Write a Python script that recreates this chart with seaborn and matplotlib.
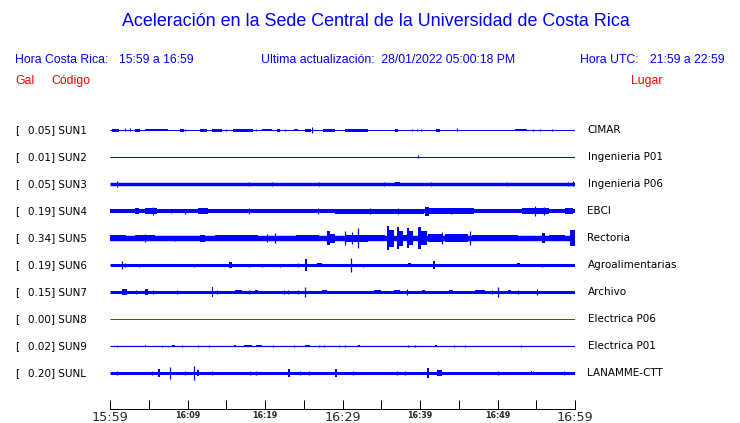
import matplotlib
matplotlib.use("Agg")
import numpy as np
import pandas as pd
import seaborn as sns
import matplotlib.pyplot as plt

#%%                  Data                  ###

codes = ["SUN1", "SUN2", "SUN3", "SUN4", "SUN5", "SUN6", "SUN7", "SUN8", "SUN9", "SUNL"]
gal = [0.05, 0.01, 0.05, 0.19, 0.34, 0.19, 0.15, 0.00, 0.02, 0.20]
places = ["CIMAR", "Ingenieria P01", "Ingenieria P06", "EBCI", "Rectoria",
          "Agroalimentarias", "Archivo", "Electrica P06", "Electrica P01", "LANAMME-CTT"]

# half width of the quiet trace, in pixels
base_half = [0.5, 0.5, 1.7, 2.0, 2.7, 1.5, 1.5, 0.5, 0.6, 1.5]

# bursts: (start min, end min, half amplitude px), minutes after 15:59
bursts_sun1 = [(0.2, 1.1, 1.5), (1.9, 1.9, 1.5), (2.6, 2.6, 1.5), (3.2, 3.9, 1.5), (4.5, 7.5, 1.3),
               (9.0, 9.5, 1.5), (9.7, 9.7, 1.2), (11.6, 12.5, 1.5), (13.1, 14.4, 1.5), (15.0, 15.0, 1.2),
               (15.9, 18.5, 1.5), (18.9, 18.9, 1.3), (19.6, 20.9, 1.3), (21.5, 21.9, 1.5), (22.6, 22.6, 1.0),
               (23.7, 24.2, 1.3), (25.1, 25.9, 1.5), (26.1, 26.1, 2.7), (27.5, 29.0, 1.5), (30.3, 33.3, 1.5),
               (36.8, 37.1, 1.5), (39.0, 39.0, 1.2), (39.6, 39.6, 1.0), (40.1, 40.1, 1.0), (42.1, 42.6, 1.5),
               (44.8, 44.8, 1.5), (52.3, 53.8, 1.2), (54.6, 54.6, 1.2), (55.5, 55.5, 1.0), (57.0, 57.0, 1.2)]
bursts_sun2 = [(39.7, 39.7, 1.5)]
bursts_sun3 = [(0.95, 0.95, 3.0), (17.9, 17.9, 2.2), (20.95, 20.95, 2.0), (27.0, 27.0, 2.0),
               (35.3, 35.3, 2.0), (36.8, 37.4, 2.0), (41.4, 41.4, 2.0), (51.2, 51.2, 2.0),
               (59.1, 59.1, 2.2), (59.8, 59.8, 2.5)]
bursts_sun4 = [(0.0, 1.5, 2.3), (3.2, 3.7, 2.8), (4.5, 6.0, 2.6), (5.6, 5.6, 4.0), (7.9, 7.9, 2.4),
               (9.7, 9.7, 2.5), (11.4, 12.7, 2.8), (13.5, 14.4, 2.4), (15.3, 17.0, 2.3), (17.9, 17.9, 2.6),
               (22.8, 26.9, 2.3), (26.9, 26.9, 3.3), (29.0, 40.5, 2.5), (33.5, 33.5, 3.3), (37.2, 37.2, 3.0),
               (40.6, 41.1, 4.5), (41.1, 41.8, 3.2), (41.8, 47.0, 2.6), (44.0, 44.0, 3.2),
               (47.0, 53.0, 2.3), (53.1, 56.6, 3.2), (54.8, 54.8, 4.7), (56.0, 56.0, 4.0), (58.7, 59.8, 2.8)]
bursts_sun5 = [(0.0, 2.0, 3.0), (3.2, 5.8, 3.2), (4.5, 4.5, 4.0), (8.4, 8.4, 2.5), (11.6, 12.3, 3.5),
               (13.5, 19.1, 2.7), (20.2, 20.2, 4.0), (21.3, 21.3, 5.0), (24.0, 27.0, 3.0),
               (28.0, 28.4, 6.7), (28.4, 29.0, 4.5), (30.3, 33.3, 3.5), (30.3, 30.3, 6.7), (31.2, 31.2, 6.0),
               (32.0, 32.0, 10.0), (33.3, 35.5, 3.0),
               (35.7, 36.0, 12.0), (36.0, 36.6, 8.5), (37.0, 37.3, 11.0), (37.3, 37.8, 7.5), (37.8, 38.3, 3.3),
               (38.3, 38.6, 10.0), (38.6, 39.1, 7.0), (39.7, 40.1, 11.0), (40.1, 40.9, 7.0),
               (41.0, 42.8, 4.0), (42.9, 42.9, 6.0), (43.2, 46.2, 3.7),
               (46.5, 46.5, 7.3), (46.7, 52.7, 3.2), (55.7, 56.1, 5.0), (56.6, 58.7, 3.0), (59.4, 60.0, 8.3)]
bursts_sun6 = [(1.5, 1.5, 4.0), (1.9, 1.9, 2.0), (3.7, 3.7, 1.5), (10.8, 10.8, 1.5), (15.3, 15.7, 2.7),
               (17.9, 17.9, 1.5), (19.6, 19.6, 1.5), (21.9, 21.9, 1.5), (24.2, 24.2, 1.7), (25.2, 25.4, 6.0),
               (26.7, 27.3, 2.3), (31.1, 31.1, 7.3), (32.7, 32.7, 1.5), (38.5, 38.9, 1.7), (41.7, 41.9, 4.0),
               (52.5, 52.9, 2.3), (55.7, 55.7, 1.5)]
bursts_sun7 = [(1.5, 2.2, 2.7), (3.4, 3.4, 1.7), (4.5, 4.9, 2.7), (5.6, 5.6, 2.0), (8.6, 8.6, 1.7),
               (10.8, 10.8, 1.3), (11.6, 11.6, 1.3), (13.1, 13.3, 4.7), (13.8, 13.8, 1.7), (14.8, 14.8, 1.3),
               (16.1, 17.0, 2.0), (17.9, 17.9, 1.7), (18.7, 19.1, 1.7), (22.4, 22.4, 1.7), (23.0, 23.0, 1.7),
               (24.2, 24.2, 1.7), (25.1, 25.1, 5.3), (27.3, 28.0, 2.3), (29.0, 29.0, 1.3), (30.8, 30.8, 1.3),
               (32.0, 32.0, 1.3), (34.0, 35.0, 1.7), (36.6, 37.4, 2.3), (38.3, 38.3, 2.7), (40.2, 40.6, 1.7),
               (43.7, 44.3, 1.7), (47.1, 48.4, 1.7), (49.3, 49.3, 1.7), (50.0, 50.0, 5.0), (51.4, 51.8, 2.0),
               (52.7, 52.7, 1.7), (55.1, 55.1, 2.7), (58.6, 58.6, 1.3)]
bursts_sun8 = []
bursts_sun9 = [(0.86, 0.86, 1.3), (4.5, 4.7, 1.3), (6.75, 6.75, 1.3), (7.96, 8.4, 1.3), (9.25, 9.25, 1.0),
               (11.3, 11.3, 1.0), (12.8, 12.8, 1.0), (16.0, 16.3, 1.3), (17.3, 18.3, 1.3), (18.9, 19.6, 1.3),
               (21.0, 21.0, 1.0), (23.7, 23.7, 1.3), (25.2, 25.8, 1.3), (27.0, 27.0, 1.0), (27.6, 27.6, 1.3),
               (29.5, 29.5, 1.0), (30.3, 30.3, 1.0), (32.0, 32.3, 1.3), (38.5, 38.5, 1.0), (39.4, 39.4, 1.0),
               (41.9, 42.2, 1.3), (44.4, 44.4, 1.0), (45.8, 45.8, 1.0), (53.0, 53.0, 1.3)]
bursts_sunl = [(0.86, 0.86, 2.0), (5.4, 5.4, 1.7), (6.2, 6.5, 4.0), (7.8, 7.8, 6.0), (9.7, 9.7, 2.0),
               (10.9, 10.9, 7.3), (11.2, 11.5, 3.0), (13.1, 13.1, 1.7), (18.1, 18.1, 2.0), (18.9, 18.9, 2.0),
               (23.0, 23.2, 4.0), (24.5, 24.5, 1.7), (25.7, 25.7, 1.7), (29.0, 29.3, 4.0), (31.4, 31.4, 1.7),
               (32.9, 32.9, 1.3), (37.0, 37.0, 1.7), (38.1, 38.1, 1.7), (40.9, 41.1, 5.3), (42.2, 42.8, 3.3),
               (50.1, 50.1, 1.7), (54.3, 54.5, 2.3), (58.6, 58.6, 2.3)]

bursts = [bursts_sun1, bursts_sun2, bursts_sun3, bursts_sun4, bursts_sun5,
          bursts_sun6, bursts_sun7, bursts_sun8, bursts_sun9, bursts_sunl]

tick_minutes = list(range(0, 61, 5))
tick_labels = ["15:59", "", "16:09", "", "16:19", "", "16:29", "", "16:39", "", "16:49", "", "16:59"]
big_ticks = [0, 6, 12]

title = "Aceleración en la Sede Central de la Universidad de Costa Rica"
hora_cr = "15:59 a 16:59"
hora_utc = "21:59 a 22:59"
actualizacion = "Ultima actualización:  28/01/2022 05:00:18 PM"

#%%                  Figure                  ###

sns.set_style("white")
plt.rcParams['font.family'] = ['DejaVu Sans']

W, H = 740, 423
fig = plt.figure(figsize=(W / 100, H / 100), dpi=100)

# axes placed in pixels: x 110..575, y 117..409 (data y = pixel row)
ax = fig.add_axes([110 / W, (H - 409) / H, 465 / W, (409 - 117) / H])
ax.set_xlim(0, 60)
ax.set_ylim(409, 117)

PT = 0.72  # one pixel in points
blue = "#0000ff"
red = "#ff0000"
row_y = [130 + 27 * i for i in range(len(codes))]

for i, code in enumerate(codes):
    yc = row_y[i]
    col = red if code == "SUN8" else blue
    base = pd.DataFrame({"t": [0, 60], "y": [yc, yc]})
    sns.lineplot(data=base, x="t", y="y", ax=ax, color=col,
                 linewidth=max(2 * base_half[i], 1.0) * PT, solid_capstyle="butt")
    for t0, t1, a in bursts[i]:
        if t1 > t0:
            ax.fill_between([t0, t1], yc - a, yc + a, color=col, linewidth=0)
        else:
            ax.vlines(t0, yc - a, yc + a, color=col, linewidth=1.2 * PT)

    # left label
    fig.text(15 / W, 1 - yc / H, "[", fontsize=7.5, va="center", ha="left", color="black")
    fig.text(27.5 / W, 1 - yc / H, f"{gal[i]:.2f}] {code}", fontsize=7.5,
             va="center", ha="left", color="black")
    # right label
    fig.text(587.5 / W, 1 - yc / H, places[i], fontsize=7.5, va="center", ha="left", color="black")

ax.set_xlabel("")
ax.set_ylabel("")
ax.set_yticks([])
for s in ["top", "left", "right"]:
    ax.spines[s].set_visible(False)
ax.spines["bottom"].set_color("black")
ax.spines["bottom"].set_linewidth(1.0 * PT)
ax.set_xticks(tick_minutes)
ax.set_xticklabels(tick_labels)
ax.tick_params(axis="x", direction="in", length=9 * PT, width=1.0 * PT, color="black",
               pad=1.5, bottom=True, labelsize=5.8)
for k, lab in enumerate(ax.get_xticklabels()):
    if k in big_ticks:
        lab.set_fontsize(9.2)
    else:
        lab.set_fontweight("bold")

# header
hdr = ["Liberation Sans", "DejaVu Sans"]
fig.text(376 / W, 1 - 22 / H, title, fontsize=12.9, color=blue, ha="center", va="center", family=hdr)
fig.text(15 / W, 1 - 60 / H, "Hora Costa Rica:", fontsize=8.8, color=blue, va="center", family=hdr)
fig.text(119 / W, 1 - 60 / H, hora_cr, fontsize=8.8, color=blue, va="center", family=hdr)
fig.text(261 / W, 1 - 60 / H, actualizacion, fontsize=8.8, color=blue, va="center", family=hdr)
fig.text(580 / W, 1 - 60 / H, "Hora UTC:", fontsize=8.8, color=blue, va="center", family=hdr)
fig.text(650 / W, 1 - 60 / H, hora_utc, fontsize=8.8, color=blue, va="center", family=hdr)
fig.text(15 / W, 1 - 81 / H, "Gal", fontsize=8.8, color=red, va="center", family=hdr)
fig.text(51 / W, 1 - 81 / H, "Código", fontsize=8.8, color=red, va="center", family=hdr)
fig.text(631 / W, 1 - 81 / H, "Lugar", fontsize=8.8, color=red, va="center", family=hdr)

fig.savefig("out.png", dpi=100)
